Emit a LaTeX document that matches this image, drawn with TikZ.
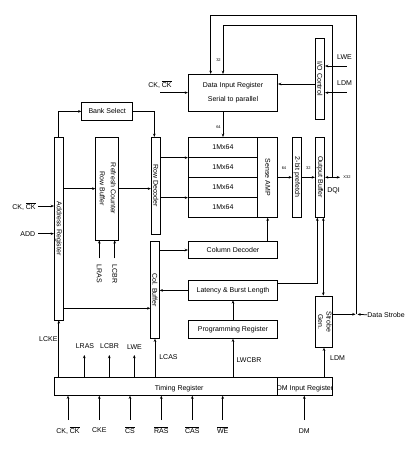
\documentclass[tikz,border=0pt]{standalone}
\usepackage{fontspec}
\setmainfont{Liberation Sans}
\usepackage{graphicx}
\usetikzlibrary{arrows.meta}
\newcommand{\barred}[1]{$\overline{\mbox{#1}}$}
\newcommand{\vtext}[1]{\rotatebox{-90}{#1}}
\begin{document}
\begin{tikzpicture}[x=1pt,y=-1pt,line width=0.75pt,
  >={Stealth[length=3.2pt,width=2.6pt]},
  every node/.style={font=\fontsize{7}{8.4}\selectfont},
  box/.style={draw,inner sep=0pt,line width=0.75pt},
  tiny/.style={font=\fontsize{4}{5}\selectfont,inner sep=0pt},
  lbl/.style={inner sep=0pt}]
\useasboundingbox (0,0) rectangle (417,451);

% boxes
\node[box,minimum width=51pt,minimum height=18.7pt] (bank) at (107.2,111.35) {Bank Select};
\node[box,minimum width=89.4pt,minimum height=36.7pt,align=center] (dir) at (233,92.65) {Data Input Register\\[6.5pt]Serial to parallel};
\node[box,minimum width=9.4pt,minimum height=81pt] (io) at (320,78.8) {\vtext{I/O Control}};
\node[box,minimum width=69.4pt,minimum height=20pt] (m1) at (223,147.3) {1Mx64};
\node[box,minimum width=69.4pt,minimum height=20pt] (m2) at (223,167.3) {1Mx64};
\node[box,minimum width=69.4pt,minimum height=20pt] (m3) at (223,187.3) {1Mx64};
\node[box,minimum width=69.4pt,minimum height=20pt] (m4) at (223,207.3) {1Mx64};
\node[box,minimum width=20pt,minimum height=80pt] (samp) at (267.7,177.3) {\vtext{Sense AMP}};
\node[box,minimum width=9.4pt,minimum height=80pt] (pref) at (297,177.3) {\vtext{2-bit prefetch}};
\node[box,minimum width=9.4pt,minimum height=80pt] (obuf) at (320,177.3) {\vtext{Output Buffer}};
\node[box,minimum width=89.4pt,minimum height=16.6pt] (coldec) at (233,250) {Column Decoder};
\node[box,minimum width=89.4pt,minimum height=19.3pt] (lat) at (233,290.35) {Latency \& Burst Length};
\node[box,minimum width=89.4pt,minimum height=17.6pt] (prog) at (233,329.5) {Programming Register};
\node[box,minimum width=16.6pt,minimum height=51.3pt] (sgen) at (324,321.65) {\vtext{\begin{tabular}{@{}c@{}}Strobe\\Gen.\end{tabular}}};
\node[box,minimum width=9pt,minimum height=182.7pt] (addr) at (58.8,228.65) {\vtext{Address Register}};
\node[box,minimum width=22.6pt,minimum height=102.7pt] (refr) at (107,188.65) {\vtext{\begin{tabular}{@{}c@{}}Refresh Counter\\[2.5pt]Row Buffer\end{tabular}}};
\node[box,minimum width=9pt,minimum height=96.7pt] (rowdec) at (155.8,185.65) {\vtext{Row Decoder}};
\node[box,minimum width=8.6pt,minimum height=96.6pt] (colbuf) at (155,290) {\vtext{Col. Buffer}};
\node[box,minimum width=223.4pt,minimum height=18pt] (timing) at (166,386.3) {};
\node[lbl] (timl) at (179.2,388.3) {Timing Register};
\node[box,minimum width=54.6pt,minimum height=18pt] (dmin) at (305,386.3) {};
\node[lbl] (dminl) at (305,388.3) {DM Input Register};

% bank select
\draw[->] (addr.north) |- (bank.west);
\draw[->] (bank.east) -| ([xshift=-1.5pt]rowdec.north);

% data input register
\coordinate (ckd) at (160,92.65);
\node[lbl] (ckdl) at (160,84) {CK, \barred{CK}};
\draw[->] (ckd) -- (dir.west);
\coordinate (dsj) at (356,314.3);
\coordinate (oc1) at (356,15.3);
\draw[->] (dsj) -- (oc1) -| ([xshift=-22.3pt]dir.north);
\coordinate (dqj) at (332.5,177.3);
\coordinate (ic1) at (332.5,25.3);
\draw[->] (dqj) -- (ic1) -| (dir.north -| m1.north);
\node[tiny] (n32a) at (218.5,60) {32};
\coordinate (y84) at (0,84);
\draw[->] (io.west |- y84) -- (dir.east |- y84);
\coordinate (lwein) at (346.7,66);
\draw[->] (lwein) -- (io.east |- lwein);
\node[lbl] (lwel) at (344.5,56.7) {LWE};
\coordinate (ldmin) at (346.7,92.7);
\draw[->] (ldmin) -- (io.east |- ldmin);
\node[lbl] (ldml) at (344.5,82.7) {LDM};
\draw[->] (dir.south -| m1.north) -- (m1.north);
\node[tiny] (n64a) at (218.5,126.7) {64};

% row path
\draw[->] (rowdec.east |- m1.south) -- (m1.south west);
\draw[->] (rowdec.east |- m3.south) -- (m3.south west);
\draw[->] (addr.east |- refr.west) -- (refr.west);
\draw[->] (refr.east) -- (rowdec.west |- refr.east);
\coordinate (cka) at (38.3,206);
\node[lbl,anchor=east] (ckal) at (36,206) {CK, \barred{CK}};
\draw[->] (cka) -- (addr.west |- cka);
\coordinate (adda) at (38.3,233.7);
\node[lbl,anchor=east] (addal) at (35.5,233.7) {ADD};
\draw[->] (adda) -- (addr.west |- adda);
\coordinate (lr1) at (99.3,258.3);
\draw[->] (lr1) -- (refr.south -| lr1);
\node[lbl,anchor=north] (lr1l) at (99.3,264.5) {\vtext{LRAS}};
\coordinate (lc1) at (114.7,258.3);
\draw[->] (lc1) -- (refr.south -| lc1);
\node[lbl,anchor=north] (lc1l) at (114.7,264.5) {\vtext{LCBR}};

% data path
\draw[->] (samp.east) -- (pref.west);
\node[tiny] (n64b) at (284,167.7) {64};
\draw[->] (pref.east) -- (obuf.west);
\node[tiny] (n32b) at (308.3,167.7) {32};
\coordinate (dqo) at (340,177.3);
\draw[->] (dqj) -- (obuf.east);
\draw[->] (dqj) -- (dqo);
\node[tiny,anchor=west] (x32) at (343,177.3) {X32};
\node[lbl] (dql) at (333.5,191) {DQI};

% strobe
\draw[->] (sgen.east |- dsj) -- ([xshift=-0.5pt]dsj);
\node[lbl,anchor=west] (dsl) at (367,314.8) {Data Strobe};
\draw[->] (dsl.west) -- ([xshift=1.5pt]dsj);
\draw[->] ([yshift=7pt]lat.east) -| ([xshift=-2.7pt]obuf.south);
\coordinate (ob2) at ([xshift=3.3pt]obuf.south);
\draw[<->] (ob2) -- (ob2 |- sgen.north);

% column path
\draw[->] (coldec.north -| samp.south) -- (samp.south);
\draw[->] (colbuf.east |- coldec.west) -- (coldec.west);
\draw[->] (lat.west) -- (colbuf.east |- lat.west);
\coordinate (h308) at (0,308.3);
\draw[->] (addr.east |- h308) -- (colbuf.west |- h308);
\draw[->] (prog.north) -- (lat.south);

% timing register outputs
\draw[->] (timing.north -| addr.south) -- (addr.south);
\node[lbl] (lckel) at (48.3,339.3) {LCKE};
\coordinate (t1) at (84.3,355);
\draw[->] (timing.north -| t1) -- (t1);
\node[lbl] (t1l) at (85,346) {LRAS};
\coordinate (t2) at (109.3,355);
\draw[->] (timing.north -| t2) -- (t2);
\node[lbl] (t2l) at (109.5,346) {LCBR};
\coordinate (t3) at (134.3,355);
\draw[->] (timing.north -| t3) -- (t3);
\node[lbl] (t3l) at (134.5,347.3) {LWE};
\draw[->] (timing.north -| colbuf.south) -- (colbuf.south);
\node[lbl] (lcasl) at (168.5,357) {LCAS};
\draw[->] (timing.north -| prog.south) -- (prog.south);
\node[lbl] (lwcbrl) at (249,360) {LWCBR};
\draw[->] (dmin.north -| sgen.south) -- (sgen.south);
\node[lbl] (ldm2l) at (337.5,358.3) {LDM};

% bottom inputs
\coordinate (b1) at (68,420);
\draw[->] (b1) -- (timing.south -| b1);
\node[lbl] (b1l) at (68,430.5) {CK, \barred{CK}};
\coordinate (b2) at (99.3,420);
\draw[->] (b2) -- (timing.south -| b2);
\node[lbl] (b2l) at (99.3,430.5) {CKE};
\coordinate (b3) at (130,420);
\draw[->] (b3) -- (timing.south -| b3);
\node[lbl] (b3l) at (130,430.5) {\barred{CS}};
\coordinate (b4) at (161.3,420);
\draw[->] (b4) -- (timing.south -| b4);
\node[lbl] (b4l) at (161.3,430.5) {\barred{RAS}};
\coordinate (b5) at (192.3,420);
\draw[->] (b5) -- (timing.south -| b5);
\node[lbl] (b5l) at (192.3,430.5) {\barred{CAS}};
\coordinate (b6) at (222.7,420);
\draw[->] (b6) -- (timing.south -| b6);
\node[lbl] (b6l) at (222.7,430.5) {\barred{WE}};
\coordinate (b7) at (304.3,420);
\draw[->] (b7) -- (dmin.south -| b7);
\node[lbl] (b7l) at (304.3,431) {DM};
\end{tikzpicture}
\end{document}
